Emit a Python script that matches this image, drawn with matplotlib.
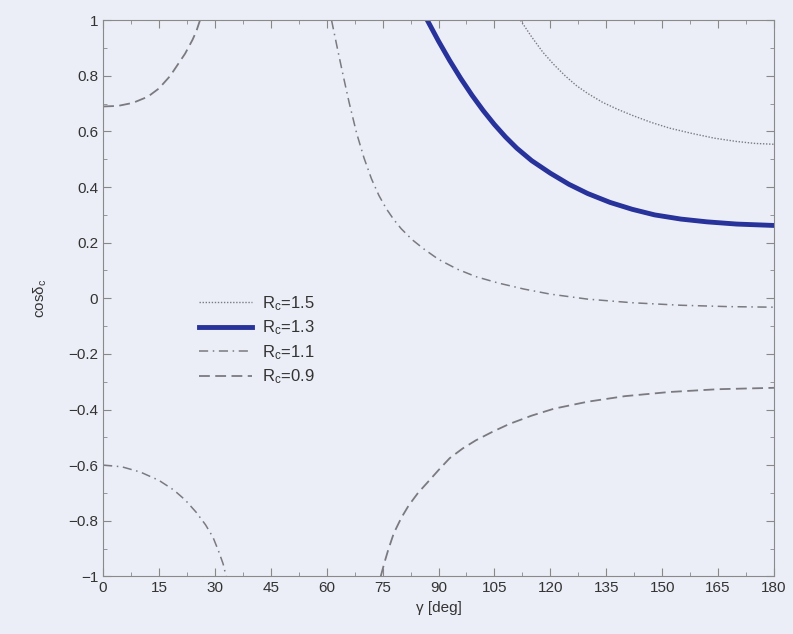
import matplotlib
matplotlib.use("Agg")
import matplotlib.pyplot as plt
from matplotlib.ticker import MultipleLocator

# values (gamma in deg, cos delta)
g_15 = [112, 115, 118, 121, 124, 127, 130, 134, 138, 142, 147, 152, 158, 164, 170, 175, 180]
c_15 = [1.0, 0.94, 0.885, 0.84, 0.8, 0.765, 0.737, 0.705, 0.68, 0.658, 0.633, 0.612,
        0.593, 0.576, 0.564, 0.557, 0.554]

g_13 = [87, 90, 93, 96, 99, 102, 105, 108, 111, 115, 120, 125, 130, 136, 142, 148,
        155, 162, 170, 180]
c_13 = [1.0, 0.925, 0.855, 0.79, 0.73, 0.675, 0.625, 0.58, 0.54, 0.495, 0.45, 0.41,
        0.377, 0.345, 0.32, 0.3, 0.285, 0.275, 0.267, 0.262]

g_11a = [0, 5, 10, 15, 19, 22, 25, 27.5, 29.5, 31, 32.2, 33]
c_11a = [-0.6, -0.606, -0.625, -0.655, -0.69, -0.725, -0.77, -0.815, -0.86, -0.91,
         -0.955, -1.0]
g_11b = [61.3, 63, 64.5, 66, 68, 70, 72, 74, 76, 78, 80, 83, 86, 90, 95, 100, 106,
         113, 120, 130, 142, 155, 168, 180]
c_11b = [1.0, 0.89, 0.796, 0.705, 0.595, 0.505, 0.43, 0.37, 0.322, 0.283, 0.25, 0.21,
         0.178, 0.14, 0.105, 0.078, 0.055, 0.033, 0.015, -0.003, -0.016, -0.025,
         -0.03, -0.032]

g_09a = [0, 4, 8, 12, 15, 18, 20, 22, 24, 25, 26]
c_09a = [0.69, 0.692, 0.703, 0.725, 0.755, 0.8, 0.84, 0.88, 0.93, 0.96, 1.0]
g_09b = [74.5, 75.5, 76.5, 78, 80, 82, 84.5, 87, 90, 93, 96.5, 100, 104.5, 109, 115,
         121, 130, 140, 152, 165, 180]
c_09b = [-1.0, -0.95, -0.905, -0.845, -0.79, -0.745, -0.7, -0.663, -0.618, -0.575,
         -0.54, -0.511, -0.48, -0.452, -0.422, -0.397, -0.372, -0.352, -0.337,
         -0.327, -0.322]

bg = "#eceef7"
grey = "#7a7a80"

plt.rcParams["font.family"] = ["Liberation Sans", "DejaVu Sans"]
plt.rcParams["mathtext.default"] = "regular"
fig = plt.figure(figsize=(7.93, 6.34), dpi=100, facecolor=bg)
ax = fig.add_axes([0.130, 0.091, 0.846, 0.877], facecolor=bg)

ax.plot(g_15, c_15, color=grey, lw=1.0, ls=(0, (1, 1.2)), label="R$_c$=1.5")
ax.plot(g_13, c_13, color="#27329a", lw=3.5, solid_joinstyle="round", label="R$_c$=1.3")
ax.plot(g_11b, c_11b, color=grey, lw=1.1, ls=(0, (6, 3, 1, 3)), label="R$_c$=1.1")
ax.plot(g_11a, c_11a, color=grey, lw=1.1, ls=(0, (6, 3, 1, 3)))
ax.plot(g_09b, c_09b, color=grey, lw=1.3, ls=(0, (6, 3)), label="R$_c$=0.9")
ax.plot(g_09a, c_09a, color=grey, lw=1.3, ls=(0, (6, 3)))

ax.set_xlim(0, 180)
ax.set_ylim(-1, 1)
ax.xaxis.set_major_locator(MultipleLocator(15))
ax.xaxis.set_minor_locator(MultipleLocator(7.5))
ax.yaxis.set_minor_locator(MultipleLocator(0.1))
yt = [-1, -0.8, -0.6, -0.4, -0.2, 0, 0.2, 0.4, 0.6, 0.8, 1]
ax.set_yticks(yt)
ax.set_yticklabels(["\u22121" if v == -1 else "1" if v == 1 else "0" if v == 0
                    else ("\u2212%.1f" % -v if v < 0 else "%.1f" % v) for v in yt])
ax.tick_params(which="both", direction="in", top=True, right=True, colors="#888888",
               labelcolor="#333333", labelsize=11)
ax.tick_params(which="major", length=6)
ax.tick_params(which="minor", length=3)
for s in ax.spines.values():
    s.set_color("#8a8a8a")

ax.set_xlabel("\u03b3 [deg]", fontsize=11, color="#333333", labelpad=4)
ax.set_ylabel("cos\u03b4$_c$", fontsize=11, color="#333333", labelpad=14)

ax.legend(loc="upper left", bbox_to_anchor=(0.12, 0.535), frameon=False,
          fontsize=12, handlelength=3.2, labelspacing=0.35, handletextpad=0.6,
          labelcolor="#333333")

fig.savefig("out.png", dpi=100, facecolor=bg)
